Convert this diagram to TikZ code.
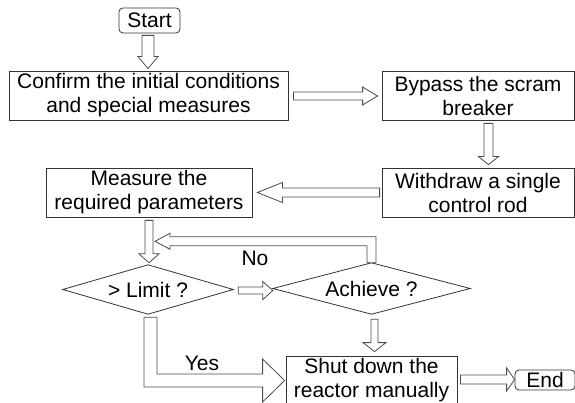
\documentclass[tikz,border=0pt]{standalone}
\usepackage{fontspec}
\setmainfont{Liberation Sans}
\usetikzlibrary{calc}
\tikzset{
  box/.style={draw=black!80, line width=0.8pt, inner sep=0pt, align=center, font=\fontsize{21}{24}\selectfont},
  rbox/.style={box, rounded corners=4pt},
  dnode/.style={inner sep=0pt, align=center, font=\fontsize{21}{24}\selectfont},
  dshape/.style={draw=black!80, line width=0.8pt},
  blk/.style={draw=black!70, line width=0.8pt, fill=white, line join=miter},
  lbl/.style={inner sep=0pt, font=\fontsize{21}{24}\selectfont}
}
% down block arrow: #1 start, #2 tip, #3 half shaft, #4 half head, #5 head length
\newcommand{\darr}[5]{\draw[blk] let \p1=(#1), \p2=(#2) in (\x1-#3pt,\y1) -- (\x1+#3pt,\y1) -- (\x1+#3pt,\y2+#5pt) -- (\x1+#4pt,\y2+#5pt) -- (\x1,\y2) -- (\x1-#4pt,\y2+#5pt) -- (\x1-#3pt,\y2+#5pt) -- cycle;}
% right block arrow
\newcommand{\rarr}[5]{\draw[blk] let \p1=(#1), \p2=(#2) in (\x1,\y1+#3pt) -- (\x2-#5pt,\y1+#3pt) -- (\x2-#5pt,\y1+#4pt) -- (\x2,\y1) -- (\x2-#5pt,\y1-#4pt) -- (\x2-#5pt,\y1-#3pt) -- (\x1,\y1-#3pt) -- cycle;}
% left block arrow
\newcommand{\larr}[5]{\draw[blk] let \p1=(#1), \p2=(#2) in (\x1,\y1+#3pt) -- (\x2+#5pt,\y1+#3pt) -- (\x2+#5pt,\y1+#4pt) -- (\x2,\y1) -- (\x2+#5pt,\y1-#4pt) -- (\x2+#5pt,\y1-#3pt) -- (\x1,\y1-#3pt) -- cycle;}
\begin{document}
\begin{tikzpicture}[x=1pt, y=-1pt]
\useasboundingbox (0,0) rectangle (575,403);

\node[rbox, minimum width=61pt, minimum height=25pt] (start) at (149.5,20.5) {Start};
\node[box, minimum width=279pt, minimum height=49pt] (confirm) at (148.5,95.5) {Confirm the initial conditions\\and special measures};
\node[box, minimum width=192pt, minimum height=49pt] (bypass) at (478,95.5) {Bypass the scram\\breaker};
\node[box, minimum width=192pt, minimum height=49pt] (withdraw) at (478,192.5) {Withdraw a single\\control rod};
\node[box, minimum width=206pt, minimum height=49pt] (measure) at (149,192.5) {Measure the\\required parameters};
\node[dnode, minimum width=170pt, minimum height=49pt] (limit) at (148,289.5) {{>} Limit ?};
\draw[dshape] (limit.north) -- (limit.east) -- (limit.south) -- (limit.west) -- cycle;
\node[dnode, minimum width=197pt, minimum height=51pt] (achieve) at (371.5,288.5) {Achieve ?};
\draw[dshape] (achieve.north) -- (achieve.east) -- (achieve.south) -- (achieve.west) -- cycle;
\node[box, minimum width=171pt, minimum height=49pt] (shut) at (371.5,380.5) {Shut down the\\reactor manually};
\node[rbox, minimum width=60pt, minimum height=20pt] (end) at (545,380) {End};

% connector end points
\coordinate (s1) at ($(start.south)+(-1.5,2)$);
\coordinate (t1) at ($(confirm.north)+(0,-2)$);
\coordinate (s2) at ($(confirm.east)+(5,0.5)$);
\coordinate (t2) at ($(bypass.west)+(-4,0)$);
\coordinate (s3) at ($(bypass.south)+(10.5,3)$);
\coordinate (t3) at ($(withdraw.north)+(0,-3)$);
\coordinate (s4) at ($(withdraw.west)+(-2,0)$);
\coordinate (t4) at ($(measure.east)+(5,0)$);
\coordinate (s5) at ($(measure.south)+(0,3)$);
\coordinate (t5) at ($(limit.north)+(0,-2)$);
\coordinate (s6) at ($(limit.east)+(5,1)$);
\coordinate (t6) at (achieve.west);
\coordinate (s7) at ($(achieve.south)+(3,5)$);
\coordinate (t7) at ($(shut.north)+(0,-4)$);
\coordinate (s8) at ($(shut.east)+(3,-1)$);
\coordinate (t8) at (end.west);

\darr{s1}{t1}{6}{10}{12}
\rarr{s2}{t2}{4}{9}{15}
\darr{s3}{t3}{4.5}{10}{8}
\larr{s4}{t4}{4.5}{10}{25}
\darr{s5}{t5}{4}{10}{9}
\rarr{s6}{t6}{3.5}{9}{10}
\darr{s7}{t7}{3.5}{11.5}{9}
\rarr{s8}{t8}{4.5}{11.5}{8}

% No feedback: from achieve top back to the measure->limit arrow
\coordinate (nb) at (achieve.north);
\coordinate (nt) at ($(s5)+(6,0)$);
\draw[blk] let \p1=(nb), \p2=(nt) in
  (\x1-4.5pt,\y1) -- (\x1-4.5pt,\y1+17pt) -- (\x2+15pt,\y1+17pt) -- (\x2+15pt,\y1+13.5pt)
  -- (\x2,\y1+21.5pt) -- (\x2+15pt,\y1+29.5pt) -- (\x2+15pt,\y1+26pt) -- (\x1+4.5pt,\y1+26pt)
  -- (\x1+4.5pt,\y1) -- cycle;
\node[lbl] (no) at (255,258) {No};

% Yes: from limit bottom down and right to shut
\coordinate (yb) at ($(limit.south)+(2.5,3)$);
\coordinate (yt) at ($(shut.west)+(-1,0)$);
\draw[blk] let \p1=(yb), \p2=(yt) in
  (\x1-6.5pt,\y1) -- (\x1+6.5pt,\y1) -- (\x1+6.5pt,\y2+6.5pt) -- (\x2-22pt,\y2+6.5pt)
  -- (\x2-22pt,\y2+21.5pt) -- (\x2,\y2) -- (\x2-22pt,\y2-21.5pt) -- (\x2-22pt,\y2-6.5pt)
  -- (\x1-6.5pt,\y2-6.5pt) -- cycle;
\node[lbl] (yes) at (202,363) {Yes};
\end{tikzpicture}
\end{document}
